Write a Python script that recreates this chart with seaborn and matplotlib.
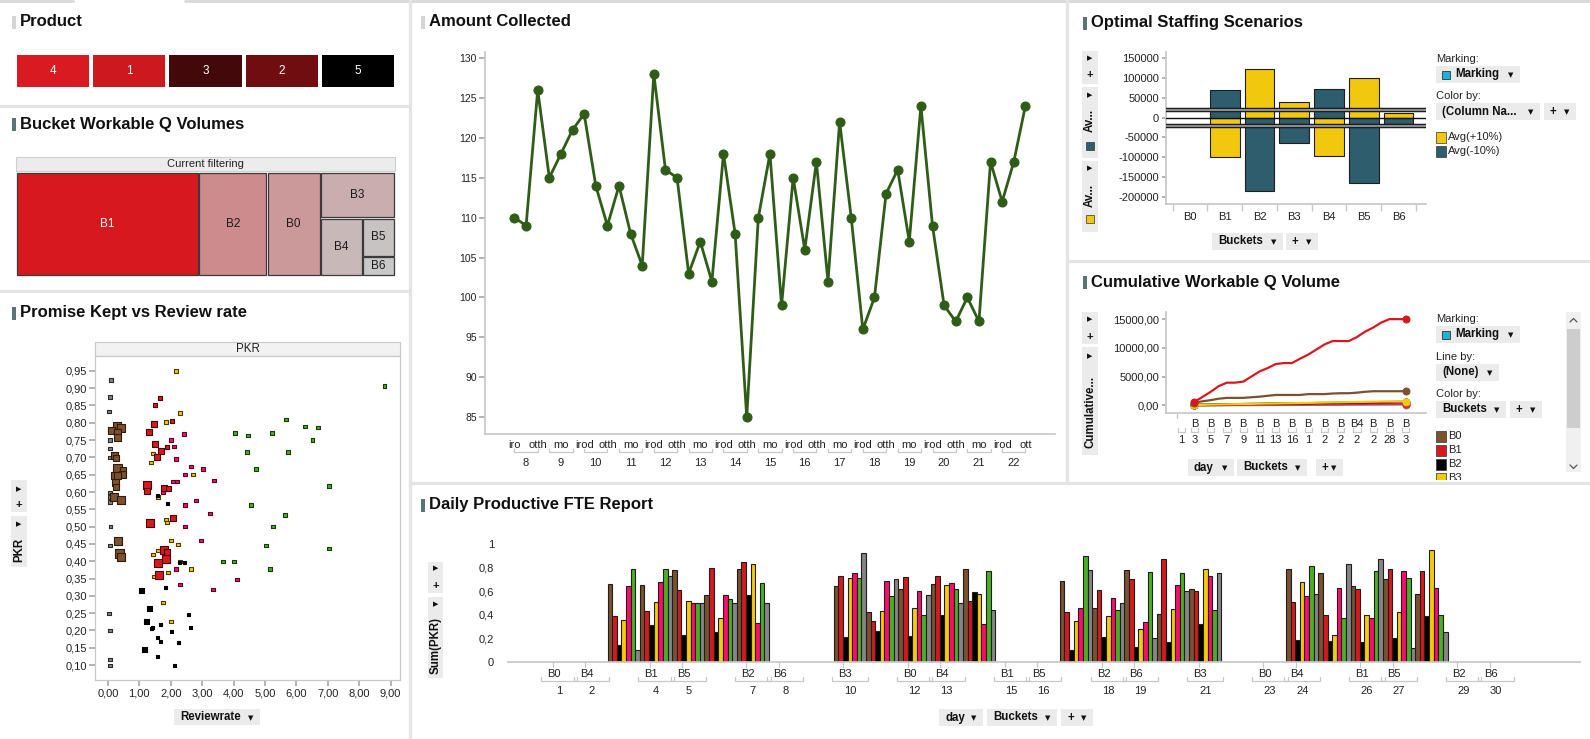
import numpy as np
import pandas as pd
import matplotlib
matplotlib.use("Agg")
import matplotlib.pyplot as plt
import matplotlib.transforms as mtransforms
from matplotlib.colors import LinearSegmentedColormap, Normalize
from matplotlib.patches import Rectangle
from matplotlib.ticker import FuncFormatter
import seaborn as sns

sns.set_theme(style="white")
plt.rcParams["font.family"] = ["Liberation Sans", "DejaVu Sans"]
plt.rcParams["axes.unicode_minus"] = False

# ---------------- data ----------------
buckets = ["B0", "B1", "B2", "B3", "B4", "B5", "B6"]

# Product strip
products = ["4", "1", "3", "2", "5"]
product_vals = [820, 790, 480, 580, 330]

# Bucket Workable Q Volumes (treemap)
tree_buckets = ["B1", "B2", "B0", "B3", "B4", "B5", "B6"]
tree_vals = [18800, 7000, 5500, 3400, 2400, 1250, 630]

# Promise Kept vs Review rate
b0_rate = [0.29, 0.41, 0.13, 0.32, 0.32, 0.22, 0.25, 0.32, 0.48, 0.22, 0.45, 0.32, 0.25, 0.25, 0.19, 0.41, 0.32, 0.38, 0.41]
b0_pkr = [0.792, 0.786, 0.778, 0.773, 0.759, 0.705, 0.699, 0.667, 0.663, 0.648, 0.652, 0.648, 0.628, 0.614, 0.585, 0.576, 0.458, 0.423, 0.412]
b0_size = [8, 8, 7, 7, 7, 7, 6, 9, 6, 7, 7, 7, 7, 6, 8, 8, 8, 9, 8]
b1_rate = [1.66, 1.50, 2.04, 1.46, 1.31, 1.50, 1.88, 1.69, 1.56, 1.24, 1.24, 1.78, 1.94, 2.07, 1.34, 1.78, 1.88, 1.85, 1.59, 1.62]
b1_pkr = [0.871, 0.851, 0.804, 0.796, 0.773, 0.738, 0.729, 0.718, 0.700, 0.619, 0.602, 0.611, 0.611, 0.524, 0.510, 0.434, 0.426, 0.408, 0.394, 0.359]
b1_size = [4, 4, 4, 6, 6, 6, 4, 6, 6, 8, 6, 6, 5, 6, 8, 8, 6, 8, 8, 8]
b2_rate = [1.08, 1.34, 1.24, 1.15, 1.59, 1.91, 2.29, 2.45, 1.82, 2.58, 2.64, 1.66, 1.40, 1.43, 2.04, 1.59, 1.69, 2.26, 1.59, 2.13]
b2_pkr = [0.316, 0.264, 0.226, 0.145, 0.590, 0.567, 0.397, 0.397, 0.325, 0.246, 0.209, 0.218, 0.206, 0.209, 0.197, 0.180, 0.168, 0.165, 0.125, 0.099]
b2_size = [5, 5, 5, 5, 3, 3, 3, 3, 3, 3, 3, 3, 3, 3, 3, 3, 3, 3, 3, 3]
b3_rate = [2.17, 2.29, 1.85, 1.43, 1.37, 2.71, 1.59, 1.85, 1.88, 2.01, 2.23, 2.29, 1.43, 1.59, 1.53, 2.64, 1.91, 1.47, 1.75, 2.01]
b3_pkr = [0.949, 0.828, 0.802, 0.712, 0.686, 0.651, 0.585, 0.521, 0.512, 0.460, 0.449, 0.400, 0.420, 0.431, 0.391, 0.377, 0.368, 0.356, 0.281, 0.226]
b4_rate = [2.42, 2.01, 2.10, 2.17, 2.64, 3.03, 2.45, 2.07, 2.20, 3.38, 1.75, 2.80, 2.45, 3.25, 2.45, 2.96, 2.17, 2.29, 4.11, 3.34]
b4_pkr = [0.767, 0.750, 0.732, 0.695, 0.674, 0.666, 0.651, 0.631, 0.631, 0.634, 0.599, 0.576, 0.562, 0.538, 0.501, 0.460, 0.377, 0.333, 0.348, 0.319]
b5_rate = [8.80, 5.67, 6.27, 6.69, 4.04, 4.46, 5.22, 6.52, 4.43, 5.73, 4.71, 7.04, 4.55, 5.64, 5.25, 5.03, 7.04, 3.66, 4.01, 5.16]
b5_pkr = [0.906, 0.810, 0.790, 0.787, 0.770, 0.764, 0.770, 0.750, 0.715, 0.715, 0.666, 0.617, 0.562, 0.533, 0.501, 0.446, 0.437, 0.400, 0.400, 0.377]
b6_rate = [0.10, 0.06, 0.03, 0.06, 0.06, 0.06, 0.06, 0.06, 0.06, 0.06, 0.08, 0.06, 0.03, 0.06, 0.06, 0.06]
b6_pkr = [0.923, 0.874, 0.833, 0.778, 0.750, 0.726, 0.700, 0.599, 0.585, 0.571, 0.501, 0.446, 0.249, 0.200, 0.116, 0.099]

# Amount Collected
amount_days = list(range(8, 23))
amount = [110, 109, 126, 115, 118, 121, 123, 114, 109, 114, 108, 104, 128, 116, 115,
          103, 107, 102, 118, 108, 85, 110, 118, 99, 115, 106, 117, 102, 122, 110,
          96, 100, 113, 116, 107, 124, 109, 99, 97, 100, 97, 117, 112, 117, 124]
amount_sub_labels = ["iro", "", "otth", "", "mo", "", "irod", "", "otth", "", "mo", "",
                     "irod", "", "otth", "", "mo", "", "irod", "", "otth", "", "mo", "",
                     "irod", "", "otth", "", "mo", "", "irod", "", "otth", "", "mo", "",
                     "irod", "", "otth", "", "mo", "", "irod", "", "ott"]

# Optimal Staffing Scenarios
avg_plus10 = [np.nan, -100000, 122000, 40000, -97000, 100000, 12000]
avg_minus10 = [np.nan, 70000, -185000, -63000, 72000, -165000, -15000]
staff_ref = 20000

# Cumulative Workable Q Volume
cum_b0 = [470, 700, 900, 1150, 1290, 1290, 1290, 1400, 1500, 1650, 1800, 1800, 1800, 1800,
          1950, 1950, 1950, 2050, 2100, 2100, 2200, 2350, 2450, 2450, 2450, 2450, 2450]
cum_b1 = [590, 1470, 2350, 3350, 3940, 3940, 4120, 5000, 5880, 6470, 7180, 7350, 7350, 8120,
          8820, 9700, 10590, 11180, 11180, 11180, 11880, 12820, 13530, 14410, 15000, 15000, 15000]
cum_b2 = [100, 110, 150, 160, 200, 210, 220, 250, 260, 300, 310, 320, 330, 350,
          360, 400, 410, 420, 450, 460, 500, 510, 550, 560, 570, 600, 600]
cum_b3 = [50, 80, 120, 150, 180, 200, 220, 250, 280, 300, 320, 350, 370, 400,
          420, 450, 480, 500, 520, 550, 580, 600, 620, 650, 650, 650, 650]
cum_b4 = [0, 20, 40, 60, 80, 100, 110, 120, 130, 140, 150, 160, 170, 180,
          190, 200, 210, 220, 230, 240, 250, 260, 270, 280, 290, 300, 300]
cum_b5 = [0, 15, 30, 40, 60, 70, 90, 100, 110, 120, 130, 140, 150, 160,
          170, 180, 190, 200, 210, 220, 230, 240, 250, 260, 270, 280, 290]
cum_b6 = [0, 5, 10, 15, 20, 25, 30, 35, 40, 45, 50, 55, 60, 65,
          70, 75, 80, 85, 90, 95, 100, 105, 110, 115, 120, 125, 130]
cum_b_labels = ["B", "B", "B", "B", "B", "B", "B", "B", "B", "B", "B4", "B", "B", "B"]
cum_num_labels = ["3", "5", "7", "9", "11", "13", "16", "1", "2", "2", "2", "2", "28", "3"]

# Daily Productive FTE Report (per day: B0..B6)
fte_days = [[3, 4, 5, 6, 7], [10, 11, 12, 13, 14], [17, 18, 19, 20, 21], [24, 25, 26, 27, 28]]
fte_w1 = [0.66, 0.39, 0.14, 0.36, 0.64, 0.79, 0.10,
          0.65, 0.43, 0.31, 0.51, 0.68, 0.79, 0.73,
          0.78, 0.61, 0.23, 0.52, 0.50, 0.50, 0.50,
          0.57, 0.80, 0.25, 0.37, 0.57, 0.53, 0.50,
          0.79, 0.85, 0.57, 0.83, 0.33, 0.67, 0.50]
fte_w2 = [0.64, 0.73, 0.21, 0.71, 0.75, 0.71, 0.92,
          0.42, 0.35, 0.26, 0.43, 0.69, 0.56, 0.70,
          0.62, 0.72, 0.22, 0.46, 0.60, 0.40, 0.57,
          0.66, 0.73, 0.40, 0.65, 0.67, 0.62, 0.50,
          0.79, 0.52, 0.59, 0.58, 0.32, 0.77, 0.44]
fte_w3 = [0.69, 0.42, 0.10, 0.35, 0.46, 0.90, 0.78,
          0.46, 0.61, 0.21, 0.39, 0.54, 0.44, 0.50,
          0.78, 0.70, 0.13, 0.28, 0.34, 0.76, 0.20,
          0.41, 0.87, 0.17, 0.45, 0.65, 0.75, 0.60,
          0.62, 0.60, 0.32, 0.79, 0.73, 0.44, 0.75]
fte_w4 = [0.79, 0.51, 0.19, 0.68, 0.56, 0.81, 0.58,
          0.75, 0.40, 0.18, 0.23, 0.63, 0.37, 0.83,
          0.64, 0.62, 0.17, 0.40, 0.37, 0.77, 0.87,
          0.70, 0.79, 0.20, 0.42, 0.77, 0.71, 0.12,
          0.58, 0.77, 0.39, 0.95, 0.63, 0.40, 0.25]
fte_label_days = [1, 2, 4, 5, 7, 8, 10, 12, 13, 15, 16, 18, 19, 21, 23, 24, 26, 27, 29, 30]
fte_label_buckets = ["B0", "B4", "B1", "B5", "B2", "B6", "B3", "B0", "B4", "B1",
                     "B5", "B2", "B6", "B3", "B0", "B4", "B1", "B5", "B2", "B6"]

# ---------------- styling ----------------
pal = {"B0": "#7b5130", "B1": "#d7191f", "B2": "#000000", "B3": "#f6cb05",
       "B4": "#ff0b70", "B5": "#4cae24", "B6": "#858585"}
edge = {"B0": "#2e1c0c", "B1": "#4a0606", "B2": "#000000", "B3": "#4a3c00",
        "B4": "#5a0424", "B5": "#173a08", "B6": "#2a2a2a"}
GRID = "#c8c8c8"
TXT = "#222222"
W, H = 1590, 739


def box(x0, y0, x1, y1):
    return [x0 / W, 1 - y1 / H, (x1 - x0) / W, (y1 - y0) / H]


fig = plt.figure(figsize=(W / 100, H / 100), dpi=100)
bg = fig.add_axes([0, 0, 1, 1], zorder=-1)
bg.set_xlim(0, W)
bg.set_ylim(H, 0)
bg.axis("off")


def title(x, y, s, bar="#5b7374"):
    bg.add_patch(Rectangle((x - 8, y - 6.5), 3.5, 13, color=bar, lw=0))
    bg.text(x, y, s, fontsize=12, fontweight="bold", va="center", ha="left", color="#111")


def button(x0, y0, x1, y1, label, swatch=None):
    bg.add_patch(Rectangle((x0, y0), x1 - x0, y1 - y0, color="#ebebeb", lw=0))
    tx = x0 + 6
    if swatch:
        bg.add_patch(Rectangle((tx, (y0 + y1) / 2 - 4), 8, 8, facecolor=swatch, edgecolor="#333", lw=0.6))
        tx += 13
    bg.text(tx, (y0 + y1) / 2, label, fontsize=8.3, fontweight="bold", va="center", color="#111")
    bg.text(x1 - 9, (y0 + y1) / 2 + 1, "\u25bc", fontsize=5, ha="center", va="center",
            family="DejaVu Sans", color="#111")


def sidebox(x0, y0, x1, y1):
    bg.add_patch(Rectangle((x0, y0), x1 - x0, y1 - y0, color="#ebebeb", lw=0))


def tri(x, y):
    bg.text(x, y, "\u25b6", fontsize=5, ha="center", va="center", family="DejaVu Sans", color="#111")


def plus(x, y):
    bg.text(x, y, "+", fontsize=8, ha="center", va="center", fontweight="bold", color="#111")


def vlabel(x, y, s):
    bg.text(x, y, s, fontsize=8.3, fontweight="bold", rotation=90, ha="center", va="center", color="#111")


def brackets(ax, spans, y, h):
    tr = mtransforms.blended_transform_factory(ax.transData, ax.transAxes)
    for a, b in spans:
        ax.plot([a, a, b, b], [y + h, y, y, y + h], color=GRID, lw=0.9, transform=tr, clip_on=False)


def comma(fmt):
    return FuncFormatter(lambda v, p: fmt.format(v).replace(".", ","))


# ---------------- frame / separators ----------------
sep = "#e4e4e4"
bg.plot([0, 73], [1, 1], color="#d8d8d8", lw=2)
bg.plot([185, W], [1, 1], color="#d8d8d8", lw=2)
bg.plot([410, 410], [0, H], color=sep, lw=2.4)
bg.plot([1067, 1067], [0, 482], color=sep, lw=2.4)
bg.plot([0, 410], [106, 106], color=sep, lw=2.4)
bg.plot([0, 410], [291, 291], color=sep, lw=2.4)
bg.plot([1067, W], [261, 261], color=sep, lw=2.4)
bg.add_patch(Rectangle((1430, 480), 140, 3, color="white", lw=0, zorder=5))
bg.plot([410, W], [483, 483], color=sep, lw=2.4, zorder=6)

# ---------------- Product ----------------
title(20, 22, "Product", bar="#d4d4d4")
ax_p = fig.add_axes(box(15, 53, 396, 89))
prod_cmap = LinearSegmentedColormap.from_list("prod", ["#000000", "#d91a20"])
sns.heatmap(np.array([product_vals]), ax=ax_p, cmap=prod_cmap, cbar=False,
            annot=np.array([products]), fmt="", annot_kws=dict(color="white", fontsize=8.5),
            linewidths=1.5, linecolor="white", xticklabels=False, yticklabels=False)

# ---------------- Bucket Workable Q Volumes (treemap) ----------------
title(20, 124, "Bucket Workable Q Volumes")
bg.add_patch(Rectangle((16, 157), 379, 14, facecolor="#ececec", edgecolor="#cfcfcf", lw=0.8))
bg.text(205.5, 164, "Current filtering", fontsize=8, ha="center", va="center", color=TXT)


def squarify(vals, x, y, w, h):
    total = float(sum(vals))
    areas = [v * w * h / total for v in vals]

    def worst(row, length):
        s = sum(row)
        return max(max(length * length * r / (s * s), s * s / (length * length * r)) for r in row)

    rects, i = [], 0
    while i < len(areas):
        length = min(w, h)
        row = [areas[i]]
        j = i + 1
        while j < len(areas) and worst(row + [areas[j]], length) <= worst(row, length):
            row.append(areas[j])
            j += 1
        s = sum(row)
        if w >= h:
            sw = s / h
            yy = y
            for a in row:
                rects.append((x, yy, sw, a / sw))
                yy += a / sw
            x += sw
            w -= sw
        else:
            sh = s / w
            xx = x
            for a in row:
                rects.append((xx, y, a / sh, sh))
                xx += a / sh
            y += sh
            h -= sh
        i = j
    return rects


ax_t = fig.add_axes(box(16, 172, 395, 276))
ax_t.set_xlim(0, 379)
ax_t.set_ylim(104, 0)
ax_t.axis("off")
tcmap = LinearSegmentedColormap.from_list("tree", ["#c8c8c8", "#d7191f"])
tnorm = Normalize(min(tree_vals), max(tree_vals))
for name, v, (rx, ry, rw, rh) in zip(tree_buckets, tree_vals, squarify(tree_vals, 0, 0, 379, 104)):
    ax_t.add_patch(Rectangle((rx + 0.7, ry + 0.7), rw - 1.4, rh - 1.4, facecolor=tcmap(tnorm(v)),
                             edgecolor="#3a3a3a", lw=0.9, clip_on=False))
    ax_t.text(rx + rw / 2, ry + rh / 2, name, ha="center", va="center", fontsize=8.5,
              color="white" if name == "B1" else "#1a1a1a")

# ---------------- Promise Kept vs Review rate ----------------
title(20, 313, "Promise Kept vs Review rate")
bg.add_patch(Rectangle((95, 342), 305, 14, facecolor="#f2f2f2", edgecolor=GRID, lw=0.8))
bg.text(247.5, 349, "PKR", fontsize=8.3, ha="center", va="center", color=TXT)
ax_s = fig.add_axes(box(95, 356, 400, 680))
scatter_sets = [
    ("B6", b6_rate, b6_pkr, [3.5] * len(b6_rate)),
    ("B5", b5_rate, b5_pkr, [3.5] * len(b5_rate)),
    ("B4", b4_rate, b4_pkr, [3.5] * len(b4_rate)),
    ("B3", b3_rate, b3_pkr, [3.5] * len(b3_rate)),
    ("B2", b2_rate, b2_pkr, b2_size),
    ("B1", b1_rate, b1_pkr, b1_size),
    ("B0", b0_rate, b0_pkr, b0_size),
]
for b, rx, ry, sz in scatter_sets:
    sns.scatterplot(x=rx, y=ry, ax=ax_s, marker="s", color=pal[b], edgecolor=edge[b],
                    linewidth=0.8, s=np.square(np.array(sz) * 0.72), legend=False, zorder=3)
ax_s.set_xlim(-0.41, 9.3)
ax_s.set_ylim(0.057, 0.993)
ax_s.set_xticks(np.arange(0, 10, 1))
ax_s.set_yticks(np.arange(0.10, 0.951, 0.05))
ax_s.xaxis.set_major_formatter(comma("{:.2f}"))
ax_s.yaxis.set_major_formatter(comma("{:.2f}"))
ax_s.tick_params(length=4, color="#aaaaaa", labelsize=8, pad=2, labelcolor=TXT, left=True, bottom=True)
for sp in ax_s.spines.values():
    sp.set_color(GRID)
    sp.set_linewidth(0.9)
ax_s.set_xlabel("")
ax_s.set_ylabel("")
sidebox(11, 480, 27, 512)
tri(19, 489)
plus(19, 505)
sidebox(11, 516, 27, 567)
tri(19, 524)
vlabel(19, 550, "PKR")
button(174, 709, 260, 725, "Reviewrate")

# ---------------- Amount Collected ----------------
title(429, 22, "Amount Collected", bar="#d4d4d4")
ax_a = fig.add_axes(box(485, 52, 1055, 434))
amt_df = pd.DataFrame({"pos": np.arange(len(amount)), "amount": amount})
sns.lineplot(data=amt_df, x="pos", y="amount", ax=ax_a, color="#2f5d18", lw=2, marker="o",
             markersize=6.5, markeredgecolor="#2f5d18", estimator=None)
ax_a.set_xlim(-2.54, 46.55)
ax_a.set_ylim(82.9, 130.75)
ax_a.set_yticks(np.arange(85, 131, 5))
ax_a.set_xticks(np.arange(len(amount)))
ax_a.set_xticklabels(amount_sub_labels)
ax_a.tick_params(axis="x", length=0, labelsize=8, pad=4, labelcolor=TXT)
ax_a.tick_params(axis="y", length=4, color="#aaaaaa", labelsize=7.5, pad=2, labelcolor=TXT, left=True)
for k in ["top", "right"]:
    ax_a.spines[k].set_visible(False)
for k in ["left", "bottom"]:
    ax_a.spines[k].set_color(GRID)
ax_a.set_xlabel("")
ax_a.set_ylabel("")
tr_a = mtransforms.blended_transform_factory(ax_a.transData, ax_a.transAxes)
brackets(ax_a, [(3 * i, 3 * i + 2) for i in range(len(amount_days))], -0.047, 0.009)
for i, d in enumerate(amount_days):
    ax_a.text(3 * i + 1, -0.076, str(d), transform=tr_a, ha="center", va="center", fontsize=8, color=TXT)

# ---------------- Optimal Staffing Scenarios ----------------
title(1091, 23, "Optimal Staffing Scenarios")
ax_o = fig.add_axes(box(1166, 52, 1426, 204))
staff_df = pd.DataFrame({
    "bucket": buckets * 2,
    "series": ["Avg(+10%)"] * 7 + ["Avg(-10%)"] * 7,
    "value": avg_plus10 + avg_minus10,
})
sns.barplot(data=staff_df, x="bucket", y="value", hue="series", order=buckets,
            hue_order=["Avg(+10%)", "Avg(-10%)"], palette=["#f2c80f", "#2e5e6e"], saturation=1,
            dodge=False, width=0.85, edgecolor="#1e1e1e", linewidth=0.8, ax=ax_o, legend=False)
for yv in (staff_ref, -staff_ref):
    ax_o.axhline(yv, color="#111", lw=3.2, zorder=4)
    ax_o.axhline(yv, color="#8c8c8c", lw=1.6, zorder=5)
ax_o.axhline(0, color="#111", lw=1, zorder=5)
ax_o.set_xlim(-0.69, 6.79)
ax_o.set_ylim(-218500, 166000)
ax_o.set_yticks(np.arange(-200000, 150001, 50000))
ax_o.yaxis.set_major_formatter(FuncFormatter(lambda v, p: "{:.0f}".format(v)))
ax_o.set_xticks(np.arange(-0.5, 7, 1), minor=True)
ax_o.tick_params(axis="x", which="major", length=0, labelsize=8, pad=6, labelcolor=TXT)
ax_o.tick_params(axis="x", which="minor", length=5, color=GRID, bottom=True)
ax_o.tick_params(axis="y", length=3, color="#aaaaaa", labelsize=8, pad=2, labelcolor=TXT, left=True)
for k in ["top", "right"]:
    ax_o.spines[k].set_visible(False)
for k in ["left", "bottom"]:
    ax_o.spines[k].set_color(GRID)
ax_o.set_xlabel("")
ax_o.set_ylabel("")
sidebox(1082, 51, 1098, 84)
tri(1090, 58)
plus(1090, 75)
sidebox(1082, 87, 1098, 158)
tri(1090, 95)
vlabel(1090, 120, "Av...")
bg.add_patch(Rectangle((1086, 142), 8, 8, facecolor="#2e5e6e", edgecolor="#333", lw=0.5))
sidebox(1082, 161, 1098, 232)
tri(1090, 168)
vlabel(1090, 195, "Av...")
bg.add_patch(Rectangle((1086, 215), 8, 8, facecolor="#f2c80f", edgecolor="#333", lw=0.5))
bg.text(1436, 59, "Marking:", fontsize=8, va="center", color=TXT)
button(1436, 66, 1520, 83, "Marking", swatch="#19b5d8")
bg.text(1436, 96, "Color by:", fontsize=8, va="center", color=TXT)
button(1436, 103, 1540, 120, "(Column Na...")
button(1544, 103, 1576, 120, "+")
for yy, lab, col in [(137, "Avg(+10%)", "#f2c80f"), (151, "Avg(-10%)", "#2e5e6e")]:
    bg.add_patch(Rectangle((1436, yy - 5.5), 10, 11, facecolor=col, edgecolor="#333", lw=0.5))
    bg.text(1448, yy, lab, fontsize=8, va="center", color=TXT)
button(1212, 233, 1283, 250, "Buckets")
button(1286, 233, 1318, 250, "+")

# ---------------- Cumulative Workable Q Volume ----------------
title(1091, 282, "Cumulative Workable Q Volume")
ax_c = fig.add_axes(box(1166, 312, 1426, 413))
cum_series = {"B0": cum_b0, "B1": cum_b1, "B2": cum_b2, "B3": cum_b3,
              "B4": cum_b4, "B5": cum_b5, "B6": cum_b6}
cum_df = pd.concat([pd.DataFrame({"pos": np.arange(len(v)), "vol": v, "bucket": b})
                    for b, v in cum_series.items()])
for b in ["B6", "B5", "B4", "B2", "B3", "B0", "B1"]:
    sub = cum_df[cum_df["bucket"] == b]
    sns.lineplot(data=sub, x="pos", y="vol", ax=ax_c, color=pal[b], lw=1.6, marker="o",
                 markersize=5, markeredgecolor=pal[b], markevery=[0, len(sub) - 1],
                 estimator=None, legend=False)
ax_c.set_xlim(-3.5, 28.5)
ax_c.set_ylim(-1340, 16240)
ax_c.set_yticks([0, 5000, 10000, 15000])
ax_c.yaxis.set_major_formatter(comma("{:.2f}"))
b_pos = np.arange(0, 27, 2)
ax_c.set_xticks(b_pos)
ax_c.set_xticklabels(cum_b_labels)
ax_c.tick_params(axis="x", length=0, labelsize=8, pad=4, labelcolor=TXT)
ax_c.tick_params(axis="y", length=3, color="#aaaaaa", labelsize=8, pad=2, labelcolor=TXT, left=True)
for k in ["top", "right"]:
    ax_c.spines[k].set_visible(False)
for k in ["left", "bottom"]:
    ax_c.spines[k].set_color(GRID)
ax_c.set_xlabel("")
ax_c.set_ylabel("")
tr_c = mtransforms.blended_transform_factory(ax_c.transData, ax_c.transAxes)
brackets(ax_c, [(p - 0.45, p + 0.45) for p in np.append(-1.6, b_pos)], -0.185, 0.04)
ax_c.plot([-2.2, -2.2], [0, -0.05], transform=tr_c, color=GRID, lw=0.9, clip_on=False)
ax_c.text(-1.6, -0.27, "1", transform=tr_c, ha="center", va="center", fontsize=8, color=TXT)
for p, lab in zip(b_pos, cum_num_labels):
    ax_c.text(p, -0.27, lab, transform=tr_c, ha="center", va="center", fontsize=8, color=TXT)
sidebox(1082, 312, 1098, 344)
tri(1090, 319)
plus(1090, 337)
sidebox(1082, 347, 1098, 455)
tri(1090, 356)
vlabel(1090, 412, "Cumulative...")
bg.text(1436, 319, "Marking:", fontsize=8, va="center", color=TXT)
button(1436, 326, 1520, 343, "Marking", swatch="#19b5d8")
bg.text(1436, 357, "Line by:", fontsize=8, va="center", color=TXT)
button(1436, 364, 1499, 381, "(None)")
bg.text(1436, 394, "Color by:", fontsize=8, va="center", color=TXT)
button(1436, 401, 1506, 418, "Buckets")
button(1510, 401, 1542, 418, "+")
for yy, b in zip([436, 450, 464, 478], buckets[:4]):
    bg.add_patch(Rectangle((1436, yy - 5.5), 10, 11, facecolor=pal[b], edgecolor="#333", lw=0.5))
    bg.text(1448, yy, b, fontsize=8, va="center", color=TXT)
bg.add_patch(Rectangle((1566, 312), 15, 160, color="#f0f0f0", lw=0))
bg.add_patch(Rectangle((1567, 329), 13, 99, color="#cdcdcd", lw=0))
bg.plot([1570, 1573.5, 1577], [322, 318.5, 322], color="#555", lw=0.9)
bg.plot([1570, 1573.5, 1577], [465, 468.5, 465], color="#555", lw=0.9)
button(1188, 459, 1234, 476, "day")
button(1237, 459, 1307, 476, "Buckets")
button(1316, 459, 1343, 476, "+")

# ---------------- Daily Productive FTE Report ----------------
title(429, 505, "Daily Productive FTE Report")
ax_d = fig.add_axes(box(508, 525, 1580, 662))
rows = []
for days, vals in zip(fte_days, [fte_w1, fte_w2, fte_w3, fte_w4]):
    for i, v in enumerate(vals):
        rows.append({"day": str(days[i // 7]), "bucket": buckets[i % 7], "pkr": v})
fte_df = pd.DataFrame(rows)
sns.barplot(data=fte_df, x="day", y="pkr", hue="bucket", order=[str(d) for d in range(1, 32)],
            hue_order=buckets, palette=pal, saturation=1, width=1.0, edgecolor="#1e1e1e",
            linewidth=0.8, errorbar=None, ax=ax_d, legend=False)
ax_d.set_xlim(-1.58, 31.6)
ax_d.set_ylim(0, 1.161)
ax_d.set_yticks([0, 0.2, 0.4, 0.6, 0.8, 1.0])
ax_d.yaxis.set_major_formatter(FuncFormatter(lambda v, p: "{:g}".format(round(v, 1)).replace(".", ",")))
ax_d.set_xticks([])
ax_d.tick_params(axis="y", length=0, labelsize=8, pad=10, labelcolor=TXT)
for k in ["top", "right", "left"]:
    ax_d.spines[k].set_visible(False)
ax_d.spines["bottom"].set_color(GRID)
ax_d.set_xlabel("")
ax_d.set_ylabel("")
tr_d = mtransforms.blended_transform_factory(ax_d.transData, ax_d.transAxes)
lab_pos = [d - 1 for d in fte_label_days]
brackets(ax_d, [(p - 0.55, p + 0.55) for p in lab_pos], -0.139, 0.03)
for p, b, d in zip(lab_pos, fte_label_buckets, fte_label_days):
    ax_d.plot([p - 0.2, p - 0.2], [0, -0.04], transform=tr_d, color=GRID, lw=0.9, clip_on=False)
    ax_d.text(p - 0.15, -0.088, b, transform=tr_d, ha="center", va="center", fontsize=8, color=TXT)
    ax_d.text(p, -0.212, str(d), transform=tr_d, ha="center", va="center", fontsize=8, color=TXT)
sidebox(428, 562, 443, 593)
tri(435.5, 568)
plus(435.5, 586)
sidebox(428, 597, 443, 678)
tri(435.5, 604)
vlabel(435.5, 645, "Sum(PKR)")
button(939, 709, 983, 726, "day")
button(987, 709, 1057, 726, "Buckets")
button(1061, 709, 1093, 726, "+")

fig.savefig("out.png", dpi=100, facecolor="white")
